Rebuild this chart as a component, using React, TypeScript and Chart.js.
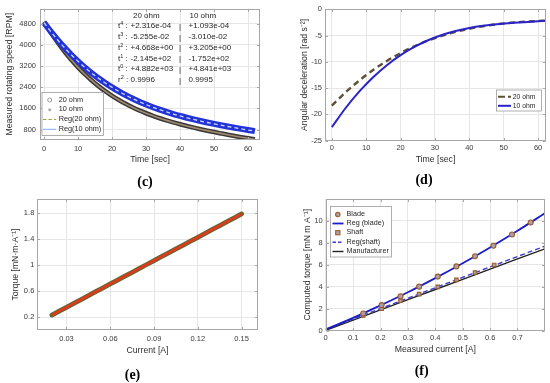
import React, { useEffect, useRef } from "react";
import { Chart, registerables } from "chart.js";

Chart.register(...registerables);

const FONT = "'Liberation Sans', Arial, Helvetica, sans-serif";
const SERIF = "'Liberation Serif', 'Times New Roman', serif";

// ---------- (c) rotating speed ----------
const timeC = [0, 2, 4, 6, 8, 10, 12, 14, 16, 18, 20, 22, 24, 26, 28, 30, 32, 34, 36, 38, 40, 42, 44, 46, 48, 50, 52, 54, 56, 58, 60, 62];
const speed20 = [4882, 4471, 4095, 3752, 3439, 3154, 2894, 2659, 2445, 2251, 2076, 1917, 1773, 1643, 1524, 1417, 1319, 1229, 1147, 1071, 1001, 935, 873, 814, 759, 706, 655, 605, 558, 512, 468, 425];
const speed10 = [4841, 4503, 4190, 3899, 3630, 3381, 3150, 2938, 2742, 2562, 2396, 2243, 2102, 1973, 1855, 1745, 1645, 1552, 1467, 1388, 1314, 1246, 1183, 1123, 1067, 1014, 964, 916, 870, 825, 782, 740];
const ticksCX = [0, 10, 20, 30, 40, 50, 60];
const ticksCY = [800, 1600, 2400, 3200, 4000, 4800];
const coefBase = ["t", "t", "t", "t", "t", "r"];
const coefExp = ["4", "3", "2", "1", "0", "2"];
const coef20 = ["+2.316e-04", "-5.255e-02", "+4.668e+00", "-2.145e+02", "+4.882e+03", "0.9996"];
const coef10 = ["+1.093e-04", "-3.010e-02", "+3.205e+00", "-1.752e+02", "+4.841e+03", "0.9995"];

// ---------- (d) angular deceleration ----------
const timeD = [0, 4, 8, 12, 16, 20, 24, 28, 32, 36, 40, 44, 48, 52, 56, 60, 62];
const decel20 = [-18.35, -15.81, -13.56, -11.57, -9.84, -8.34, -7.05, -5.96, -5.05, -4.3, -3.7, -3.22, -2.85, -2.57, -2.37, -2.22, -2.17];
const decel10 = [-22.46, -18.81, -15.65, -12.94, -10.65, -8.74, -7.17, -5.9, -4.9, -4.14, -3.56, -3.14, -2.84, -2.63, -2.45, -2.28, -2.19];
const ticksDX = [0, 10, 20, 30, 40, 50, 60];
const ticksDY = [-25, -20, -15, -10, -5, 0];

// ---------- (e) torque vs current ----------
const currentE = [0.02, 0.025, 0.03, 0.035, 0.04, 0.045, 0.05, 0.055, 0.06, 0.065, 0.07, 0.075, 0.08, 0.085, 0.09, 0.095, 0.1, 0.105, 0.11, 0.115, 0.12, 0.125, 0.13, 0.135, 0.14, 0.145, 0.15];
const torqueE = [0.23, 0.29, 0.35, 0.41, 0.47, 0.53, 0.59, 0.65, 0.71, 0.77, 0.83, 0.89, 0.95, 1.01, 1.07, 1.13, 1.19, 1.25, 1.31, 1.37, 1.43, 1.49, 1.55, 1.61, 1.67, 1.73, 1.79];
const ticksEX = [0.03, 0.06, 0.09, 0.12, 0.15];
const ticksEY = [0.2, 0.6, 1, 1.4, 1.8];

// ---------- (f) computed torque ----------
const bladeI = [0.137, 0.204, 0.273, 0.341, 0.409, 0.477, 0.545, 0.612, 0.68, 0.748];
const bladeT = [1.55, 2.32, 3.12, 4.0, 4.92, 5.85, 6.78, 7.74, 8.76, 9.86];
const shaftI = [0.137, 0.204, 0.273, 0.341, 0.409, 0.477, 0.545, 0.615];
const shaftT = [1.38, 1.98, 2.72, 3.32, 3.98, 4.62, 5.28, 5.98];
const regI = [0, 0.1, 0.2, 0.3, 0.4, 0.5, 0.6, 0.7, 0.8];
const regBlade = [0.1, 1.15, 2.29, 3.49, 4.78, 6.14, 7.58, 9.1, 10.7];
const regShaft = [0.1, 1.05, 2.0, 2.95, 3.9, 4.85, 5.8, 6.75, 7.7];
const manufacturer = [0.02, 0.95, 1.88, 2.81, 3.74, 4.67, 5.6, 6.53, 7.45];
const ticksFX = [0, 0.1, 0.2, 0.3, 0.4, 0.5, 0.6, 0.7];
const ticksFY = [0, 2, 4, 6, 8, 10];

const pts = (xs: number[], ys: number[]) => xs.map((x, i) => ({ x, y: ys[i] }));

const boxPlugin = {
  id: "matlabBox",
  afterDatasetsDraw(chart: any) {
    const { ctx, chartArea: a, scales } = chart;
    ctx.save();
    ctx.strokeStyle = "#a6a6a6";
    ctx.lineWidth = 1;
    const L = Math.round(a.left) + 0.5;
    const R = Math.round(a.right) - 0.5;
    const T = Math.round(a.top) + 0.5;
    const B = Math.round(a.bottom) - 0.5;
    ctx.strokeRect(L, T, R - L, B - T);
    ctx.beginPath();
    for (const t of scales.x.ticks) {
      const p = Math.round(scales.x.getPixelForValue(t.value)) + 0.5;
      ctx.moveTo(p, B); ctx.lineTo(p, B - 2.5);
      ctx.moveTo(p, T); ctx.lineTo(p, T + 2.5);
    }
    for (const t of scales.y.ticks) {
      const p = Math.round(scales.y.getPixelForValue(t.value)) + 0.5;
      ctx.moveTo(L, p); ctx.lineTo(L + 2.5, p);
      ctx.moveTo(R, p); ctx.lineTo(R - 2.5, p);
    }
    ctx.stroke();
    ctx.restore();
  },
};

type ScaleOpts = {
  min: number; max: number; ticks: number[]; fmt: (v: number) => string;
  title: string; size: number; titlePad: number; tickPad: number; horizontal: boolean;
};

function scale(o: ScaleOpts) {
  return {
    type: "linear",
    min: o.min,
    max: o.max,
    afterBuildTicks: (s: any) => { s.ticks = o.ticks.map((v) => ({ value: v })); },
    afterFit: (s: any) => { if (o.horizontal) s.height = o.size; else s.width = o.size; },
    grid: { color: "#e6e6e6", lineWidth: 1, drawTicks: false },
    border: { display: false },
    ticks: {
      color: "#3a3a3a", font: { family: FONT, size: 7.5 }, padding: o.tickPad,
      autoSkip: false, maxRotation: 0, minRotation: 0,
      callback: (v: any) => o.fmt(Number(v)),
    },
    title: {
      display: true, text: o.title, color: "#2e2e2e", font: { family: FONT, size: 8.7 },
      padding: o.horizontal ? { top: 0, bottom: o.titlePad } : { top: o.titlePad, bottom: 0 },
    },
  };
}

function options(pad: any, xs: any, ys: any) {
  return {
    responsive: false,
    maintainAspectRatio: false,
    animation: false,
    layout: { padding: pad },
    plugins: { legend: { display: false }, tooltip: { enabled: false } },
    elements: { point: { radius: 0 } },
    scales: { x: xs, y: ys },
  };
}

const int0 = (v: number) => String(Math.round(v));

const cfgC: any = {
  type: "line",
  data: {
    datasets: [
      { label: "Reg(10 ohm)", data: pts(timeC, speed10), borderColor: "#c6d8ff", borderWidth: 1.3, borderDash: [4, 3], pointRadius: 0, cubicInterpolationMode: "monotone" },
      { label: "10 ohm", data: pts(timeC, speed10), borderColor: "#2433d6", borderWidth: 6, pointRadius: 0, cubicInterpolationMode: "monotone" },
      { label: "Reg(20 ohm)", data: pts(timeC, speed20), borderColor: "#a08c74", borderWidth: 1.6, pointRadius: 0, cubicInterpolationMode: "monotone" },
      { label: "20 ohm", data: pts(timeC, speed20), borderColor: "#3b3835", borderWidth: 4.6, pointRadius: 0, cubicInterpolationMode: "monotone" },
    ],
  },
  options: options(
    { top: 5, right: 5, left: 0, bottom: 0 },
    scale({ min: -1.2, max: 63.5, ticks: ticksCX, fmt: int0, title: "Time [sec]", size: 28, titlePad: 2.8, tickPad: 4, horizontal: true }),
    scale({ min: 405, max: 5380, ticks: ticksCY, fmt: int0, title: "Measured rotating speed [RPM]", size: 40, titlePad: 4.8, tickPad: 4, horizontal: false })
  ),
  plugins: [boxPlugin],
};

const cfgD: any = {
  type: "line",
  data: {
    datasets: [
      { label: "10 ohm", data: pts(timeD, decel10), borderColor: "#2b22c8", borderWidth: 2, pointRadius: 0, cubicInterpolationMode: "monotone" },
      { label: "20 ohm", data: pts(timeD, decel20), borderColor: "#5e5035", borderWidth: 2.4, borderDash: [6, 4], pointRadius: 0, cubicInterpolationMode: "monotone" },
    ],
  },
  options: options(
    { top: 9.3, right: 4, left: 0, bottom: 0 },
    scale({ min: -2, max: 62.3, ticks: ticksDX, fmt: int0, title: "Time [sec]", size: 27.5, titlePad: 2.8, tickPad: 3, horizontal: true }),
    scale({ min: -25, max: 0, ticks: ticksDY, fmt: int0, title: "Angular deceleration [rad s\u207B\u00B2]", size: 40, titlePad: 14.8, tickPad: 3, horizontal: false })
  ),
  plugins: [boxPlugin],
};

const cfgE: any = {
  type: "line",
  data: {
    datasets: [
      { label: "Fit", data: pts(currentE, torqueE), borderColor: "#e2381f", borderWidth: 2.6, pointRadius: 0 },
      { label: "Measured", data: pts(currentE, torqueE), borderColor: "#5d6a30", borderWidth: 4.8, borderCapStyle: "round", pointRadius: 0, pointHoverRadius: 0 },
    ],
  },
  options: options(
    { top: 9, right: 7.3, left: 0, bottom: 0 },
    scale({ min: 0.01, max: 0.161, ticks: ticksEX, fmt: (v) => v.toFixed(2), title: "Current [A]", size: 29, titlePad: 2.8, tickPad: 4, horizontal: true }),
    scale({ min: 0, max: 2.02, ticks: ticksEY, fmt: (v) => String(Math.round(v * 10) / 10), title: "Torque [mN\u00B7m\u00B7A\u207B\u00B9]", size: 37.3, titlePad: 10.8, tickPad: 3, horizontal: false })
  ),
  plugins: [boxPlugin],
};

const cfgF: any = {
  type: "line",
  data: {
    datasets: [
      { label: "Blade", data: pts(bladeI, bladeT), showLine: false, pointStyle: "circle", pointRadius: 2.5, pointBorderColor: "#9c5a32", pointBackgroundColor: "#aaa09c", pointBorderWidth: 1.1 },
      { label: "Shaft", data: pts(shaftI, shaftT), showLine: false, pointStyle: "rect", pointRadius: 2.5, pointBorderColor: "#9c5a32", pointBackgroundColor: "#aaa09c", pointBorderWidth: 1.1 },
      { label: "Reg (blade)", data: pts(regI, regBlade), borderColor: "#1c1cc8", borderWidth: 1.8, pointRadius: 0, cubicInterpolationMode: "monotone" },
      { label: "Reg(shaft)", data: pts(regI, regShaft), borderColor: "#3c3cd0", borderWidth: 1.4, borderDash: [5, 3], pointRadius: 0, cubicInterpolationMode: "monotone" },
      { label: "Manufacturer", data: pts(regI, manufacturer), borderColor: "#222222", borderWidth: 1.4, pointRadius: 0 },
    ],
  },
  options: options(
    { top: 9, right: 4, left: 0, bottom: 0 },
    scale({ min: 0, max: 0.8, ticks: ticksFX, fmt: (v) => (v === 0 ? "0" : v.toFixed(1)), title: "Measured current [A]", size: 27.5, titlePad: 2.8, tickPad: 3, horizontal: true }),
    scale({ min: 0, max: 12, ticks: ticksFY, fmt: int0, title: "Computed torque [mN m A\u207B\u00B9]", size: 40.7, titlePad: 17.1, tickPad: 3, horizontal: false })
  ),
  plugins: [boxPlugin],
};

function Panel({ x, y, w, h, config }: { x: number; y: number; w: number; h: number; config: any }) {
  const ref = useRef<HTMLCanvasElement>(null);
  useEffect(() => {
    const c = new Chart(ref.current as HTMLCanvasElement, config);
    return () => c.destroy();
  }, []);
  return (
    <div style={{ position: "absolute", left: x, top: y, width: w, height: h }}>
      <canvas ref={ref} width={w} height={h} style={{ display: "block", width: w, height: h }} />
    </div>
  );
}

function Txt({ x, y, s, children, color = "#262626", family = FONT, weight = "normal", center = false }: any) {
  return (
    <div
      style={{
        position: "absolute", left: x, top: y - s * 0.6, fontSize: s, lineHeight: `${s * 1.2}px`,
        fontFamily: family, color, whiteSpace: "nowrap", fontWeight: weight,
        transform: center ? "translateX(-50%)" : undefined,
      }}
    >
      {children}
    </div>
  );
}

const rowY = [26, 36.8, 47.6, 58.4, 69.2, 80];

export default function App() {
  return (
    <div style={{ position: "absolute", left: 0, top: 0, width: 550, height: 383, background: "#ffffff", overflow: "hidden" }}>
      <Panel x={0} y={0} w={265} h={168} config={cfgC} />
      <Panel x={285} y={0} w={265} h={168} config={cfgD} />
      <Panel x={0} y={190} w={265} h={169} config={cfgE} />
      <Panel x={285} y={190} w={265} h={168} config={cfgF} />

      <svg width={550} height={383} style={{ position: "absolute", left: 0, top: 0 }}>
        {/* legend (c) */}
        <rect x={42} y={92.5} width={61.5} height={43} fill="#ffffff" stroke="#9c9c9c" strokeWidth={0.8} />
        <circle cx={49.7} cy={100} r={2} fill="none" stroke="#8c8c8c" strokeWidth={0.9} />
        <g stroke="#9a9a9a" strokeWidth={0.8}>
          <line x1={48.2} y1={109.8} x2={51.2} y2={109.8} />
          <line x1={49.7} y1={108.3} x2={49.7} y2={111.3} />
          <line x1={48.6} y1={108.7} x2={50.8} y2={110.9} />
          <line x1={50.8} y1={108.7} x2={48.6} y2={110.9} />
        </g>
        <line x1={43} y1={119.5} x2={56.3} y2={119.5} stroke="#a3a33a" strokeWidth={1} strokeDasharray="3.5 2" />
        <line x1={43} y1={129.3} x2={56.3} y2={129.3} stroke="#80aaff" strokeWidth={1} />

        {/* legend (d) */}
        <rect x={496.5} y={90} width={45} height={21} fill="#ffffff" stroke="#9c9c9c" strokeWidth={0.8} />
        <line x1={498} y1={96.7} x2={511} y2={96.7} stroke="#5e5035" strokeWidth={2} strokeDasharray="7 3" />
        <line x1={498} y1={105.8} x2={511} y2={105.8} stroke="#2b22c8" strokeWidth={2} />

        {/* legend (f) */}
        <rect x={330.5} y={206.5} width={61} height={50.5} fill="#ffffff" stroke="#9c9c9c" strokeWidth={0.8} />
        <circle cx={337.8} cy={214.5} r={2.2} fill="#aaa09c" stroke="#9c5a32" strokeWidth={1.1} />
        <line x1={332.5} y1={223.5} x2={343.5} y2={223.5} stroke="#1c1cc8" strokeWidth={1.8} />
        <rect x={335.7} y={230.6} width={4.2} height={4.2} fill="#aaa09c" stroke="#9c5a32" strokeWidth={1.1} />
        <line x1={332.5} y1={242.2} x2={343.5} y2={242.2} stroke="#3c3cd0" strokeWidth={1.4} strokeDasharray="3.5 2" />
        <line x1={332.5} y1={251.5} x2={343.5} y2={251.5} stroke="#222222" strokeWidth={1.4} />
      </svg>

      {/* legend texts (c) */}
      <Txt x={58.7} y={100} s={7.3}>20 ohm</Txt>
      <Txt x={58.7} y={109.8} s={7.3}>10 ohm</Txt>
      <Txt x={58.7} y={119.5} s={7.3}>Reg(20 ohm)</Txt>
      <Txt x={58.7} y={129.3} s={7.3}>Reg(10 ohm)</Txt>

      {/* coefficient table (c) */}
      <Txt x={133} y={16} s={8}>20 ohm</Txt>
      <Txt x={189.5} y={16} s={8}>10 ohm</Txt>
      {coef20.map((v, i) => (
        <React.Fragment key={i}>
          <Txt x={118} y={rowY[i]} s={8}>
            {coefBase[i]}
            <span style={{ fontSize: 5.5, position: "relative", top: -3 }}>{coefExp[i]}</span>
            {" :"}
          </Txt>
          <Txt x={130.5} y={rowY[i]} s={8}>{v}</Txt>
          <Txt x={179} y={rowY[i] + 0.5} s={8}>|</Txt>
          <Txt x={188.5} y={rowY[i]} s={8}>{coef10[i]}</Txt>
        </React.Fragment>
      ))}

      {/* legend texts (d) */}
      <Txt x={512.8} y={96.7} s={6.8}>20 ohm</Txt>
      <Txt x={512.8} y={105.8} s={6.8}>10 ohm</Txt>

      {/* legend texts (f) */}
      <Txt x={346.5} y={214.5} s={7.2}>Blade</Txt>
      <Txt x={346.5} y={223.5} s={7.2}>Reg (blade)</Txt>
      <Txt x={346.5} y={232.7} s={7.2}>Shaft</Txt>
      <Txt x={346.5} y={242.2} s={7.2}>Reg(shaft)</Txt>
      <Txt x={346.5} y={251.5} s={7.2}>Manufacturer</Txt>

      {/* panel labels */}
      <Txt x={145} y={182} s={14} family={SERIF} weight="bold" color="#000" center>(c)</Txt>
      <Txt x={424} y={180} s={14} family={SERIF} weight="bold" color="#000" center>(d)</Txt>
      <Txt x={132.5} y={375} s={14} family={SERIF} weight="bold" color="#000" center>(e)</Txt>
      <Txt x={421.7} y={371.7} s={14} family={SERIF} weight="bold" color="#000" center>(f)</Txt>
    </div>
  );
}
